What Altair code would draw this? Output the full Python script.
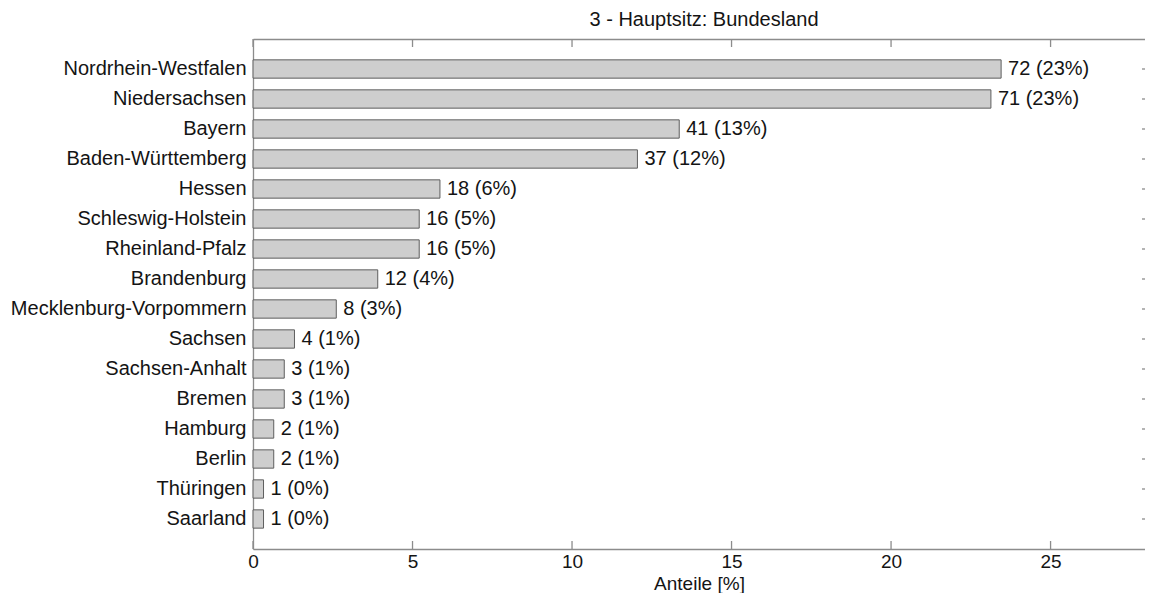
import altair as alt
import pandas as pd

# ---- data ----
states = ["Nordrhein-Westfalen", "Niedersachsen", "Bayern", "Baden-Württemberg",
          "Hessen", "Schleswig-Holstein", "Rheinland-Pfalz", "Brandenburg",
          "Mecklenburg-Vorpommern", "Sachsen", "Sachsen-Anhalt", "Bremen",
          "Hamburg", "Berlin", "Thüringen", "Saarland"]
counts = [72, 71, 41, 37, 18, 16, 16, 12, 8, 4, 3, 3, 2, 2, 1, 1]
shares = [23.45, 23.13, 13.36, 12.05, 5.86, 5.21, 5.21, 3.91, 2.61,
          1.30, 0.98, 0.98, 0.65, 0.65, 0.33, 0.33]
share_labels = [23, 23, 13, 12, 6, 5, 5, 4, 3, 1, 1, 1, 1, 1, 0, 0]
tick_values = [0, 5, 10, 15, 20, 25]

df = pd.DataFrame({"Bundesland": states, "Anzahl": counts, "Anteil": shares,
                   "Label": [f"{c} ({p}%)" for c, p in zip(counts, share_labels)]})
ticks_df = pd.DataFrame({"t": tick_values})

W, H = 892, 510
FONT = "Liberation Sans"
AX = "#8c8c8c"
TXT = "#141414"
FS = 20

xscale = alt.Scale(domain=[0, 27.96], nice=False, zero=True)
yscale = alt.Scale(domain=states, paddingInner=0.39, paddingOuter=0.695)

y_enc = alt.Y("Bundesland:N", scale=yscale, sort=None,
              axis=alt.Axis(title=None, domain=True, domainColor=AX, domainWidth=1.3,
                            ticks=False, labelFont=FONT, labelFontSize=FS,
                            labelColor=TXT, labelPadding=7, labelLimit=0))

base = alt.Chart(df)

bars = base.mark_bar(fill="#cecece", stroke="#5e5e5e", strokeWidth=1).encode(
    x=alt.X("Anteil:Q", scale=xscale,
            axis=alt.Axis(title="Anteile [%]", values=tick_values, orient="bottom",
                          domain=True, domainColor=AX, domainWidth=1.3, ticks=False,
                          grid=False, labelFont=FONT, labelFontSize=19, labelColor=TXT,
                          labelPadding=3, labelFlush=False, titleFont=FONT,
                          titleFontSize=19, titleFontWeight="normal", titleColor=TXT,
                          titleY=40, titleBaseline="alphabetic")),
    y=y_enc,
)

text = base.mark_text(align="left", baseline="middle", dx=7, font=FONT,
                      fontSize=FS, color=TXT).encode(
    x=alt.X("Anteil:Q", scale=xscale, axis=None),
    y=y_enc,
    text="Label:N",
)

top_ticks = alt.Chart(ticks_df).mark_rule(color=AX, strokeWidth=1.3).encode(
    x=alt.X("t:Q", scale=xscale,
            axis=alt.Axis(orient="top", labels=False, ticks=False, domain=True,
                          domainColor=AX, domainWidth=1.3, title=None, grid=False)),
    y=alt.value(0), y2=alt.value(8),
)

bot_ticks = alt.Chart(ticks_df).mark_rule(color=AX, strokeWidth=1.3).encode(
    x=alt.X("t:Q", scale=xscale, axis=None),
    y=alt.value(H), y2=alt.value(H - 8),
)

right_ticks = base.mark_rule(color=AX, strokeWidth=1.3).encode(
    x=alt.value(W - 3), x2=alt.value(W),
    y=y_enc,
)

chart = alt.layer(bars, text, top_ticks, bot_ticks, right_ticks).resolve_axis(
    x="independent"
).properties(
    width=W, height=H,
    title=alt.TitleParams("3 - Hauptsitz: Bundesland", font=FONT, fontSize=FS,
                          fontWeight="normal", color=TXT, anchor="middle",
                          baseline="alphabetic", offset=15, dy=23, dx=5),
    autosize=alt.AutoSizeParams(type="none"),
    padding={"left": 245, "top": 31, "right": 0, "bottom": 44},
).configure_view(strokeWidth=0).configure(background="white")

chart.save("out.html", embed_options={"renderer": "svg", "actions": False})
